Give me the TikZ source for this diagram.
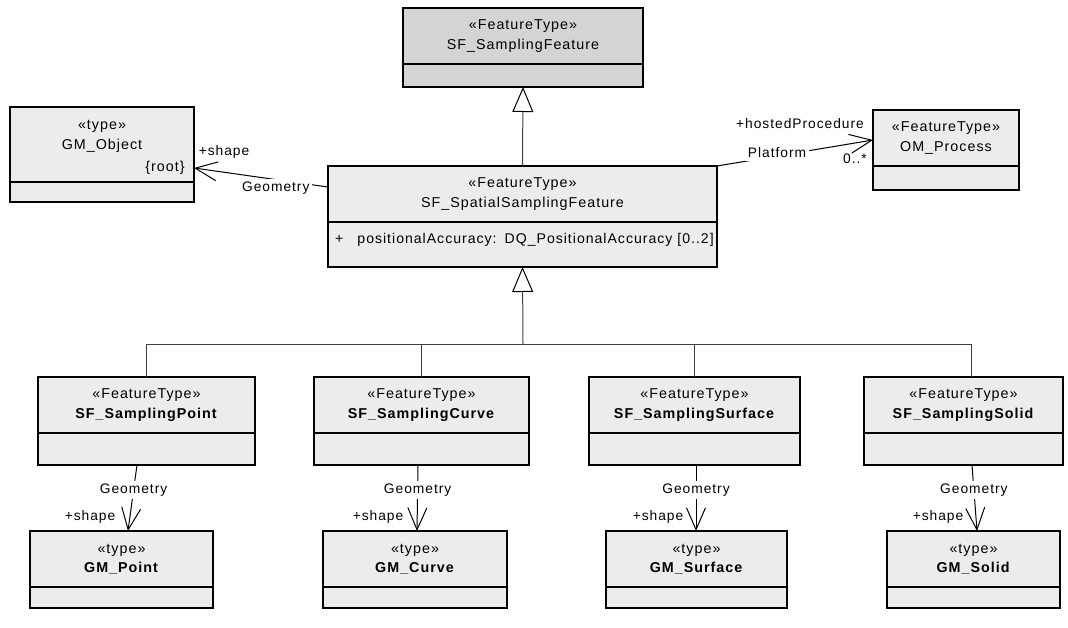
\documentclass[tikz,border=0pt]{standalone}
\usepackage{fontspec}
\setmainfont{Liberation Sans}[LetterSpace=7]
\usetikzlibrary{positioning,arrows.meta}

\definecolor{classfill}{HTML}{ECECEC}
\definecolor{rootfill}{HTML}{D4D4D4}

\tikzset{
  classhead/.style={draw, line width=1.3pt, fill=classfill, align=center,
    inner sep=0pt, outer sep=0pt, font=\fontsize{14.3}{19.5}\selectfont},
  classbody/.style={draw, line width=1.3pt, fill=classfill, inner sep=0pt, outer sep=0pt},
  genline/.style={draw=black!75, line width=1pt},
  gen/.style={genline, -{Triangle[open,length=25pt,width=21pt,color=black]}},
  assoc/.style={line width=1pt, -{Straight Barb[length=22pt,width=19pt]}},
  midlabel/.style={fill=white, inner sep=3pt, font=\fontsize{13.8}{15}\selectfont},
  endlabel/.style={inner sep=1pt, font=\fontsize{13.8}{15}\selectfont},
}

\begin{document}
\begin{tikzpicture}[x=1pt,y=-1pt]
\useasboundingbox (0,0) rectangle (1068,628);

% root class
\node[classhead, fill=rootfill, minimum width=240, minimum height=56] (sf) at (523,36)
  {«FeatureType»\\SF\_SamplingFeature};
\node[classbody, fill=rootfill, minimum width=240, minimum height=23, below=0pt of sf] (sfb) {};

% spatial sampling feature
\node[classhead, minimum width=389, minimum height=56] (spatial) at (522.5,194)
  {«FeatureType»\\SF\_SpatialSamplingFeature};
\node[classbody, minimum width=389, minimum height=45, below=0pt of spatial] (spatialb) {};
\node[anchor=west, inner sep=0pt, font=\fontsize{14.1}{15}\selectfont] (attr) at (335,240)
  {+\hspace{14pt}positionalAccuracy:\hspace{8pt}DQ\_PositionalAccuracy [0..2]};

% GM_Object and OM_Process
\node[classhead, minimum width=184, minimum height=75] (gmobj) at (102,144.5)
  {«type»\\GM\_Object\\\mbox{}};
\node[classbody, minimum width=184, minimum height=20, below=0pt of gmobj] (gmobjb) {};
\node[endlabel, font=\fontsize{14.3}{15}\selectfont] (root) at (165,168) {\{root\}};

\node[classhead, minimum width=146, minimum height=56] (omp) at (946,138)
  {«FeatureType»\\OM\_Process};
\node[classbody, minimum width=146, minimum height=24, below=0pt of omp] (ompb) {};

% specialised sampling features
\node[classhead, minimum width=217, minimum height=56] (pt) at (146.5,405)
  {«FeatureType»\\\textbf{SF\_SamplingPoint}};
\node[classbody, minimum width=217, minimum height=32, below=0pt of pt] (ptb) {};
\node[classhead, minimum width=215, minimum height=56] (cv) at (421.5,405)
  {«FeatureType»\\\textbf{SF\_SamplingCurve}};
\node[classbody, minimum width=215, minimum height=32, below=0pt of cv] (cvb) {};
\node[classhead, minimum width=211, minimum height=56] (sfc) at (694.5,405)
  {«FeatureType»\\\textbf{SF\_SamplingSurface}};
\node[classbody, minimum width=211, minimum height=32, below=0pt of sfc] (sfcb) {};
\node[classhead, minimum width=199, minimum height=56] (sd) at (963.5,405)
  {«FeatureType»\\\textbf{SF\_SamplingSolid}};
\node[classbody, minimum width=199, minimum height=32, below=0pt of sd] (sdb) {};

% geometry types
\node[classhead, minimum width=183, minimum height=56] (gpt) at (121.5,559)
  {«type»\\\textbf{GM\_Point}};
\node[classbody, minimum width=183, minimum height=21, below=0pt of gpt] (gptb) {};
\node[classhead, minimum width=184, minimum height=56] (gcv) at (415,559)
  {«type»\\\textbf{GM\_Curve}};
\node[classbody, minimum width=184, minimum height=21, below=0pt of gcv] (gcvb) {};
\node[classhead, minimum width=181, minimum height=56] (gsf) at (696.5,559)
  {«type»\\\textbf{GM\_Surface}};
\node[classbody, minimum width=181, minimum height=21, below=0pt of gsf] (gsfb) {};
\node[classhead, minimum width=173, minimum height=56] (gsd) at (973.5,559)
  {«type»\\\textbf{GM\_Solid}};
\node[classbody, minimum width=173, minimum height=21, below=0pt of gsd] (gsdb) {};

% generalisations
\draw[gen] (spatial.north) -- (sfb.south);
\coordinate (hub) at (523,344);
\draw[gen] (hub) -- (spatialb.south);
\draw[genline] (pt.north) |- (hub);
\draw[genline] (cv.north) |- (hub);
\draw[genline] (sfc.north) |- (hub);
\draw[genline] ([xshift=7.5pt]sd.north) |- (hub);

% associations
\draw[assoc] ([yshift=7pt]spatial.west) -- node[midlabel, pos=.39, yshift=-9pt] (geo0) {Geometry}
  ([yshift=-23.5pt]gmobj.east);
\node[endlabel] (shape0) at (224,152) {+shape};

\draw[assoc] (spatial.north east) -- node[midlabel, pos=.385, yshift=3pt] (plat) {Platform}
  ([yshift=-2pt]omp.west);
\node[endlabel] (hosted) at (800,124) {+hostedProcedure};
\node[endlabel] (mult) at (855,159) {0..*};

\draw[assoc] ([xshift=-9.5pt]ptb.south) -- node[midlabel, pos=.38] (geo1) {Geometry}
  ([xshift=6.5pt]gpt.north);
\node[endlabel] (shape1) at (90,517) {+shape};
\draw[assoc] ([xshift=-3.5pt]cvb.south) -- node[midlabel, pos=.38] (geo2) {Geometry}
  ([xshift=2pt]gcv.north);
\node[endlabel] (shape2) at (378,517) {+shape};
\draw[assoc] ([xshift=1.5pt]sfcb.south) -- node[midlabel, pos=.38] (geo3) {Geometry}
  ([xshift=-0.5pt]gsf.north);
\node[endlabel] (shape3) at (658,517) {+shape};
\draw[assoc] ([xshift=8.5pt]sdb.south) -- node[midlabel, pos=.38] (geo4) {Geometry}
  ([xshift=3.5pt]gsd.north);
\node[endlabel] (shape4) at (938,517) {+shape};
\end{tikzpicture}
\end{document}
